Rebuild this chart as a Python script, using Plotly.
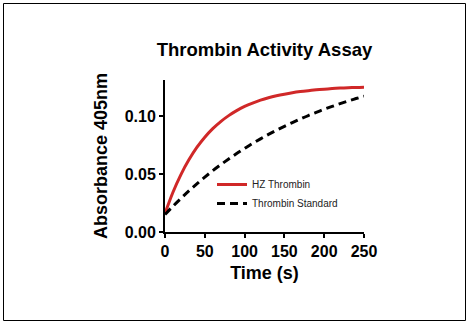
import plotly.graph_objects as go

time_s = [0, 10, 20, 30, 40, 50, 60, 70, 80, 90, 100, 110, 120, 130, 140, 150,
          160, 170, 180, 190, 200, 210, 220, 230, 240, 250]
hz_thrombin = [0.0160, 0.0343, 0.0495, 0.0622, 0.0729, 0.0817, 0.0891, 0.0952,
               0.1003, 0.1046, 0.1082, 0.1111, 0.1136, 0.1157, 0.1174, 0.1188,
               0.1200, 0.1210, 0.1218, 0.1225, 0.1231, 0.1236, 0.1240, 0.1243,
               0.1246, 0.1248]
thrombin_standard = [0.0150, 0.0222, 0.0289, 0.0354, 0.0415, 0.0473, 0.0528,
                     0.0580, 0.0629, 0.0676, 0.0720, 0.0763, 0.0803, 0.0841,
                     0.0877, 0.0911, 0.0943, 0.0974, 0.1004, 0.1031, 0.1058,
                     0.1082, 0.1106, 0.1129, 0.1150, 0.1170]
x_ticks = [0, 50, 100, 150, 200, 250]
y_ticks = [0.00, 0.05, 0.10]
y_tick_labels = ["0.00", "0.05", "0.10"]

FONT = "Liberation Sans, Arial, sans-serif"

fig = go.Figure()
fig.add_trace(go.Scatter(x=time_s, y=hz_thrombin, mode="lines", name="HZ Thrombin",
                         line=dict(color="#D02828", width=3, shape="spline")))
fig.add_trace(go.Scatter(x=time_s, y=thrombin_standard, mode="lines",
                         name="Thrombin Standard",
                         line=dict(color="black", width=3, dash="8px,5px",
                                   shape="spline")))

W, H = 469, 325
L, R, T, B = 165, 364, 80, 232

def px(xp):
    return (xp - L) / (R - L)

def py(yp):
    return (B - yp) / (B - T)

fig.update_layout(
    width=W, height=H,
    margin=dict(l=L, r=W - R, t=T, b=H - B, pad=0),
    paper_bgcolor="white", plot_bgcolor="white",
    font=dict(family=FONT, color="black"),
    title=dict(text="Thrombin Activity Assay", x=0.5, xref="paper",
               xanchor="center", y=1 - 49.5 / H, yref="container",
               yanchor="middle",
               font=dict(size=18.5, weight="bold", color="black", family=FONT)),
    showlegend=True,
    legend=dict(x=px(212), y=py(170), xanchor="left", yanchor="top",
                bgcolor="rgba(0,0,0,0)", itemwidth=30,
                font=dict(size=10, color="#222222", family=FONT),
                tracegroupgap=0),
    xaxis=dict(range=[0, 250], tickvals=x_ticks, showgrid=False, zeroline=False,
               showline=True, linecolor="black", linewidth=2,
               ticks="outside", ticklen=4, tickwidth=1.5, tickcolor="black",
               tickfont=dict(size=16, weight="bold", color="black", family=FONT),
               title=dict(text="Time (s)", standoff=7,
                          font=dict(size=18, weight="bold", color="black",
                                    family=FONT))),
    yaxis=dict(range=[0, 0.131], tickvals=y_ticks, ticktext=y_tick_labels,
               showgrid=False, zeroline=False,
               showline=True, linecolor="black", linewidth=2,
               ticks="outside", ticklen=4, tickwidth=1.5, tickcolor="black",
               ticklabelstandoff=0,
               tickfont=dict(size=16, weight="bold", color="black", family=FONT),
               title=dict(text="Absorbance 405nm", standoff=12,
                          font=dict(size=18, weight="bold", color="black",
                                    family=FONT))),
    shapes=[dict(type="rect", xref="paper", yref="paper",
                 x0=px(3.5), x1=px(465.5), y0=py(320.5), y1=py(3.5),
                 line=dict(color="black", width=1), fillcolor="rgba(0,0,0,0)",
                 layer="below")],
)

fig.write_html("out.html")
